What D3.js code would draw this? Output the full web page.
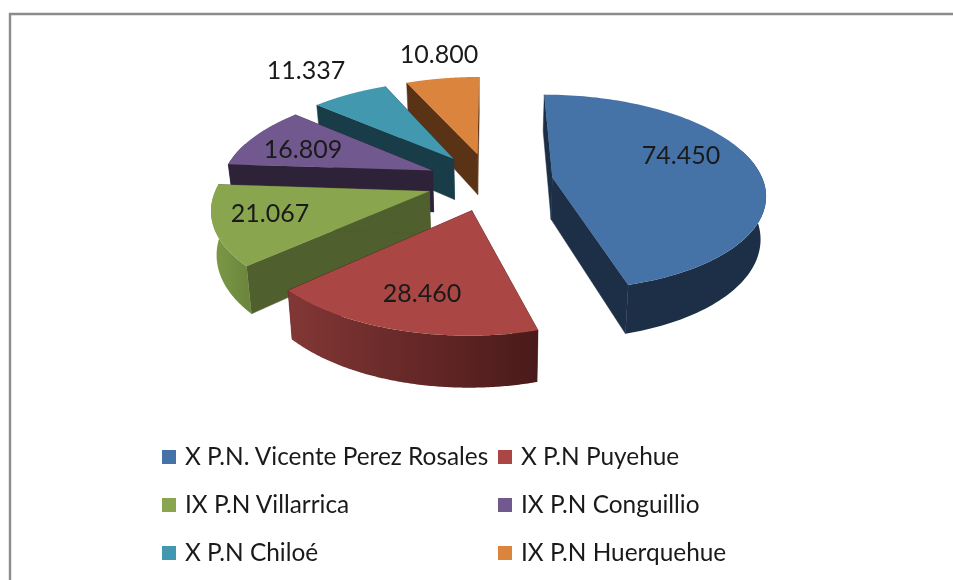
<!DOCTYPE html>
<html><head><meta charset="utf-8">
<script src="https://cdn.jsdelivr.net/npm/d3@7"></script>
<style>html,body{margin:0;background:#fff}svg{display:block;filter:blur(.45px)}text{font-family:Lato,"Open Sans",sans-serif;fill:#1a1a1a}</style>
</head><body><div id="c"></div>
<script>
const categories=["X P.N. Vicente Perez Rosales","X P.N Puyehue","IX P.N Villarrica","IX P.N Conguillio","X P.N Chiloé","IX P.N Huerquehue"];
const values=[74450,28460,21067,16809,11337,10800];
const valueLabels=["74.450","28.460","21.067","16.809","11.337","10.800"];
const topColors=["#4572a7","#aa4643","#89a54e","#71588f","#4198af","#db843d"];
const wallLeft=["#1c2f47","#823735","#7d9a47","#2e2239","#183c48","#5a3316"];
const wallRight=["#1c2f47","#4a1a1a","#6c873d","#2e2239","#183c48","#5a3316"];
const cutColors=["#1c2f47","#4a1a1a","#4f5f2d","#2e2239","#183c48","#5a3316"];
const drawOrder=[0,5,4,3,2,1];
const labelAt=[[681,158],[422,296],[270,216],[303,152],[306,73],[439,57]];

const W=953,H=580;
const svg=d3.select("#c").append("svg").attr("width",W).attr("height",H);
const defs=svg.append("defs");
svg.append("path").attr("d",`M10,${H}V14H${W}`).attr("fill","none").attr("stroke","#8c8c8c").attr("stroke-width",2.4);

const cx=490,cy=181.5,Rx=211,Ry=96.5,k=.15,D=42,explode=.3,converge=.02;
function proj(u,v,z){const w=1-k*v;const x=cx+Rx*u/w,y=cy+Ry*v/w;
  return z?[cx+(x-cx)*(1-converge),y+D/w]:[x,y];}
const arcs=d3.pie().sort(null).value(d=>d)(values);
const line=d3.line();
const g=svg.append("g");
function drawSlice(i){
  const a=arcs[i],mid=(a.startAngle+a.endAngle)/2;
  const ox=explode*Math.sin(mid),oy=-explode*Math.cos(mid);
  const pt=(t,r,z)=>proj(ox+r*Math.sin(t),oy-r*Math.cos(t),z);
  const s=g.append("g");
  const A=d3.range(0,121).map(j=>a.startAngle+(a.endAngle-a.startAngle)*j/120);
  [a.startAngle,a.endAngle].forEach(t=>{
    s.append("path").attr("d",line([pt(t,0,0),pt(t,1,0),pt(t,1,1),pt(t,0,1)])+"Z").attr("fill",cutColors[i]).attr("stroke",cutColors[i]).attr("stroke-width",.5);
  });
  const front=A.filter(t=>Math.cos(t)<0.3);
  if(front.length>1){
    const xs=front.map(t=>pt(t,1,0)[0]);
    const lg=defs.append("linearGradient").attr("id","wall"+i).attr("gradientUnits","userSpaceOnUse")
      .attr("x1",d3.min(xs)).attr("x2",d3.max(xs)).attr("y1",0).attr("y2",0);
    lg.append("stop").attr("offset",0).attr("stop-color",wallLeft[i]);
    lg.append("stop").attr("offset",1).attr("stop-color",wallRight[i]);
    const poly=front.map(t=>pt(t,1,0)).concat(front.slice().reverse().map(t=>pt(t,1,1)));
    s.append("path").attr("d",line(poly)+"Z").attr("fill",`url(#wall${i})`);
  }
  s.append("path").attr("d",line([pt(0,0,0)].concat(A.map(t=>pt(t,1,0))))+"Z").attr("fill",topColors[i]);
}
drawOrder.forEach(drawSlice);

g.selectAll("text.v").data(valueLabels).join("text").attr("class","v")
 .attr("x",(d,i)=>labelAt[i][0]).attr("y",(d,i)=>labelAt[i][1]).attr("text-anchor","middle").attr("dominant-baseline","middle")
 .attr("font-size",25).text(d=>d);

const legX=[162,498],legY=[457,505,553];
const leg=svg.append("g");
categories.forEach((c,i)=>{
  const x=legX[i%2],y=legY[Math.floor(i/2)];
  leg.append("rect").attr("x",x).attr("y",y-7).attr("width",14).attr("height",14).attr("fill",topColors[i]);
  leg.append("text").attr("x",x+23).attr("y",y+2).attr("dominant-baseline","middle").attr("font-size",24.4).text(c);
});
</script></body></html>
